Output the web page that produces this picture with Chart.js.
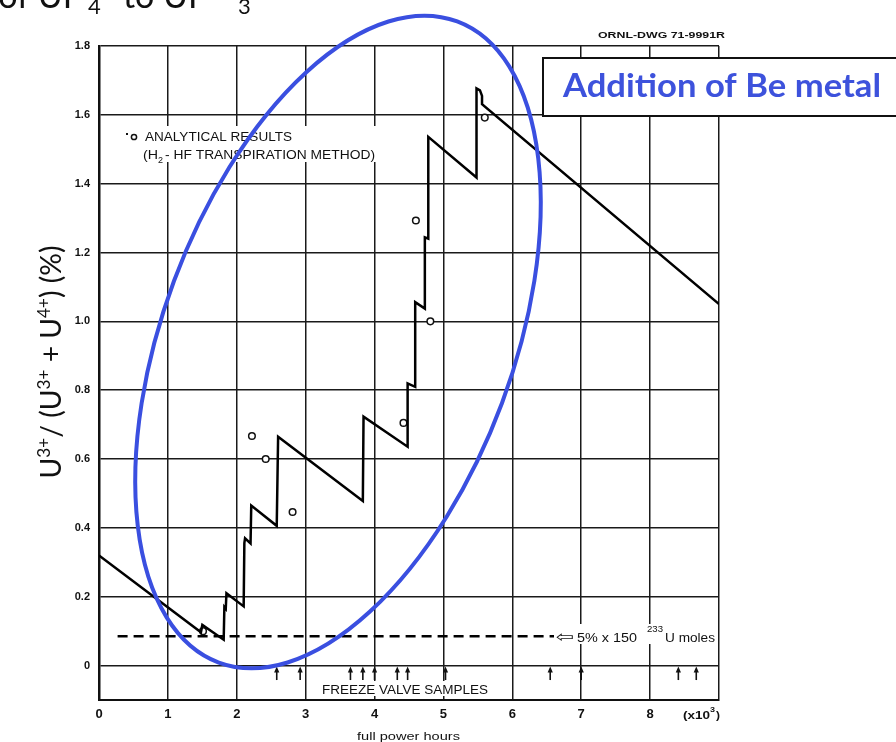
<!DOCTYPE html>
<html>
<head>
<meta charset="utf-8">
<script src="https://cdn.jsdelivr.net/npm/chart.js@4.4.0/dist/chart.umd.min.js"></script>
<style>
  html, body { margin: 0; padding: 0; background: #fff; overflow: hidden; }
  canvas { display: block; }
</style>
</head>
<body>
<canvas id="myChart" width="896" height="742"></canvas>
<script>
// full power hours (x10^3) and U3+/(U3+ + U4+) (%)
var stepHours = [0, 1.48, 1.50, 1.81, 1.82, 1.84, 1.85, 2.10, 2.11, 2.12, 2.20, 2.21, 2.58, 2.60, 3.83, 3.84, 4.48, 4.48, 4.59, 4.59, 4.73, 4.73, 4.78, 4.78, 5.48, 5.48, 5.53, 5.56, 5.56, 9.0];
var stepRatio = [0.32, 0.097, 0.118, 0.075, 0.17, 0.165, 0.21, 0.172, 0.356, 0.37, 0.355, 0.465, 0.406, 0.665, 0.478, 0.723, 0.636, 0.82, 0.81, 1.056, 1.037, 1.244, 1.24, 1.536, 1.418, 1.677, 1.671, 1.655, 1.631, 1.05];

var sampleHours = [1.51, 2.22, 2.42, 2.81, 4.42, 4.60, 4.81, 5.60];
var sampleRatio = [0.10, 0.667, 0.60, 0.446, 0.705, 1.293, 1.0, 1.592];

var limitHours = [0.27, 6.62];
var limitRatio = [0.085, 0.085];

var freezeValveHours = [2.58, 2.92, 3.65, 3.83, 4.0, 4.33, 4.48, 5.03, 6.55, 7.0, 8.41, 8.67];

var xTicks = [0, 1, 2, 3, 4, 5, 6, 7, 8, 9];
var yTicks = [0, 0.2, 0.4, 0.6, 0.8, 1.0, 1.2, 1.4, 1.6, 1.8];

function toPoints(xs, ys) {
    var pts = [];
    for (var i = 0; i < xs.length; i++) {
        pts.push({ x: xs[i], y: ys[i] });
    }
    return pts;
}

// draw text squeezed/stretched to a given width
function fitText(ctx, text, x, y, width, font) {
    ctx.save();
    ctx.font = font;
    var w = ctx.measureText(text).width;
    ctx.translate(x, y);
    ctx.scale(width / w, 1);
    ctx.fillText(text, 0, 0);
    ctx.restore();
}

function whiteBox(ctx, x, y, w, h) {
    ctx.save();
    ctx.fillStyle = '#fff';
    ctx.fillRect(x, y, w, h);
    ctx.restore();
}

var overlay = {
    id: 'overlay',
    afterDraw: function (chart) {
        var ctx = chart.ctx;
        var xs = chart.scales.x;
        var ys = chart.scales.y;
        ctx.save();
        ctx.fillStyle = '#111';
        ctx.textBaseline = 'alphabetic';
        ctx.textAlign = 'left';

        // cut-off slide title
        ctx.font = '34px Lato';
        ctx.textAlign = 'right';
        ctx.fillText('of UF', 82, 8);
        ctx.textAlign = 'left';
        ctx.font = '22px Lato';
        ctx.fillText('4', 88, 14);
        ctx.font = '34px Lato';
        ctx.fillText('to UF', 123, 8);
        ctx.font = '22px Lato';
        ctx.fillText('3', 238, 14);

        // drawing number
        fitText(ctx, 'ORNL-DWG 71-9991R', 598, 38, 127, 'bold 9px "Liberation Sans"');

        // legend for analytical results
        whiteBox(ctx, 122, 126, 258, 36);
        ctx.fillStyle = '#111';
        ctx.fillRect(126, 133, 2, 2);
        ctx.beginPath();
        ctx.lineWidth = 1.5;
        ctx.strokeStyle = '#111';
        ctx.arc(134, 137, 2.6, 0, Math.PI * 2);
        ctx.stroke();
        fitText(ctx, 'ANALYTICAL RESULTS', 145, 141, 147, '12px "Liberation Sans"');
        fitText(ctx, '(H', 143, 159, 15, '12px "Liberation Sans"');
        ctx.font = '9px "Liberation Sans"';
        ctx.fillText('2', 158, 163);
        fitText(ctx, '- HF TRANSPIRATION METHOD)', 165, 159, 210, '12px "Liberation Sans"');

        // limit label
        whiteBox(ctx, 554, 624, 164, 20);
        ctx.fillStyle = '#111';
        fitText(ctx, '\u21E6', 556, 642, 18, '15px "DejaVu Sans"');
        fitText(ctx, '5% x 150', 577, 642, 60, '12px "Liberation Sans"');
        fitText(ctx, '233', 647, 632, 16, '9px "Liberation Sans"');
        fitText(ctx, 'U moles', 665, 642, 50, '12px "Liberation Sans"');

        // freeze valve sample arrows
        ctx.strokeStyle = '#111';
        ctx.lineWidth = 1.6;
        var yTop = ys.getPixelForValue(0);
        var yBot = ys.getPixelForValue(-0.042);
        freezeValveHours.forEach(function (h) {
            var px = xs.getPixelForValue(h);
            ctx.beginPath();
            ctx.moveTo(px, yBot);
            ctx.lineTo(px, yTop + 4);
            ctx.stroke();
            ctx.beginPath();
            ctx.moveTo(px, yTop + 1);
            ctx.lineTo(px - 2.6, yTop + 7);
            ctx.lineTo(px + 2.6, yTop + 7);
            ctx.closePath();
            ctx.fill();
        });
        whiteBox(ctx, 320, 681, 170, 15);
        ctx.fillStyle = '#111';
        fitText(ctx, 'FREEZE VALVE SAMPLES', 322, 694, 166, '12px "Liberation Sans"');

        // axis extras
        fitText(ctx, '(x10', 683, 719, 27, 'bold 11px "Liberation Sans"');
        fitText(ctx, '3', 710, 712, 5, 'bold 8px "Liberation Sans"');
        fitText(ctx, ')', 716, 719, 4, 'bold 11px "Liberation Sans"');
        fitText(ctx, 'full power hours', 357, 740, 103, '11px "Liberation Sans"');

        // y axis title with superscripts
        var parts = [['U', 0], ['3+', 1], ['/ (U', 0], ['3+', 1], [' + U', 0], ['4+', 1], [') (%)', 0]];
        var big = '28px Lato', small = '17px Lato';
        var total = 0;
        parts.forEach(function (p) {
            ctx.font = p[1] ? small : big;
            total += ctx.measureText(p[0]).width;
        });
        ctx.save();
        ctx.translate(61, 362);
        ctx.rotate(-Math.PI / 2);
        ctx.scale(233 / total, 1);
        var cx = -total / 2;
        parts.forEach(function (p) {
            ctx.font = p[1] ? small : big;
            ctx.fillText(p[0], cx, p[1] ? -11 : 0);
            cx += ctx.measureText(p[0]).width;
        });
        ctx.restore();

        // blue ellipse
        ctx.beginPath();
        ctx.strokeStyle = '#3a4fe0';
        ctx.lineWidth = 4;
        ctx.ellipse(338, 342, 175, 342, 0.356, 0, Math.PI * 2);
        ctx.stroke();

        // callout box
        ctx.fillStyle = '#fff';
        ctx.fillRect(543, 58, 360, 58);
        ctx.strokeStyle = '#111';
        ctx.lineWidth = 2;
        ctx.strokeRect(543, 58, 360, 58);
        ctx.fillStyle = '#3d52dc';
        fitText(ctx, 'Addition of Be metal', 563, 97, 318, 'bold 33px Lato');

        ctx.restore();
    }
};

var ctx = document.getElementById('myChart').getContext('2d');
new Chart(ctx, {
    type: 'scatter',
    data: {
        datasets: [
            {
                label: 'U3+ ratio',
                data: toPoints(stepHours, stepRatio),
                showLine: true,
                borderColor: '#000',
                borderWidth: 2.5,
                pointRadius: 0,
                tension: 0
            },
            {
                label: 'limit',
                data: toPoints(limitHours, limitRatio),
                showLine: true,
                borderColor: '#000',
                borderWidth: 2.5,
                borderDash: [10, 6],
                pointRadius: 0
            },
            {
                label: 'analytical results',
                data: toPoints(sampleHours, sampleRatio),
                showLine: false,
                pointRadius: 3.3,
                pointBorderWidth: 1.5,
                pointBorderColor: '#111',
                pointBackgroundColor: '#fff'
            }
        ]
    },
    options: {
        responsive: false,
        animation: false,
        devicePixelRatio: 1,
        layout: { padding: { top: 46, right: 177, left: 0, bottom: 0 } },
        plugins: {
            legend: { display: false },
            tooltip: { enabled: false }
        },
        scales: {
            x: {
                type: 'linear',
                min: 0,
                max: 9,
                afterFit: function (s) { s.height = 42; },
                afterBuildTicks: function (s) { s.ticks = xTicks.map(function (v) { return { value: v }; }); },
                ticks: {
                    callback: function (v) { return v === 9 ? '' : String(v); },
                    font: { family: 'Liberation Sans', size: 13, weight: 'bold' },
                    color: '#111',
                    padding: 7,
                    maxRotation: 0,
                    autoSkip: false
                },
                grid: { color: '#1a1a1a', lineWidth: 1.5, drawTicks: false },
                border: { color: '#111', width: 2 }
            },
            y: {
                min: -0.1,
                max: 1.8,
                afterFit: function (s) { s.width = 99; },
                afterBuildTicks: function (s) { s.ticks = yTicks.map(function (v) { return { value: v }; }); },
                ticks: {
                    callback: function (v) { return v === 0 ? '0' : v.toFixed(1); },
                    font: { family: 'Liberation Sans', size: 11, weight: 'bold' },
                    color: '#111',
                    padding: 9
                },
                grid: { color: '#1a1a1a', lineWidth: 1.5, drawTicks: false },
                border: { color: '#111', width: 2.5 }
            }
        }
    },
    plugins: [overlay]
});
</script>
</body>
</html>
